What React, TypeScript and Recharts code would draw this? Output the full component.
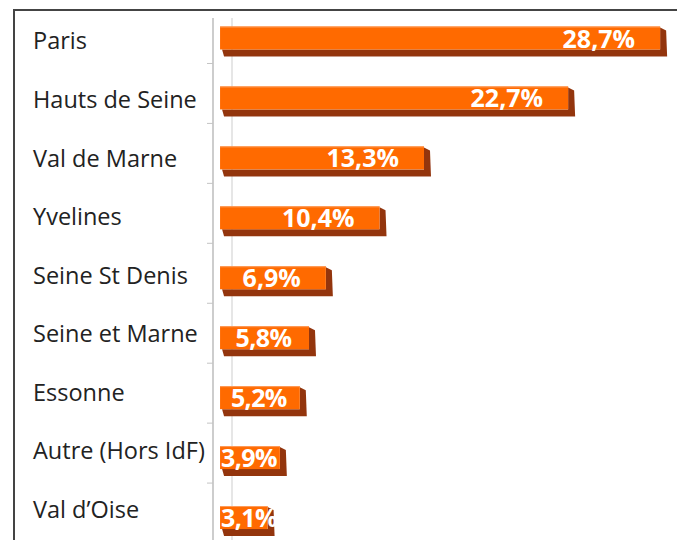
import { BarChart, Bar, XAxis, YAxis, LabelList } from 'recharts'

const departements = [
  'Paris',
  'Hauts de Seine',
  'Val de Marne',
  'Yvelines',
  'Seine St Denis',
  'Seine et Marne',
  'Essonne',
  'Autre (Hors IdF)',
  'Val d\u2019Oise',
]

const parts = [28.7, 22.7, 13.3, 10.4, 6.9, 5.8, 5.2, 3.9, 3.1]

const data = departements.map((name, i) => ({ name, value: parts[i] }))

const ORANGE = '#ff6a00'
const SHADOW = '#933611'

function formatPct(v: number) {
  return `${v.toFixed(1).replace('.', ',')}%`
}

// barre avec un petit effet 3D (face droite + dessous)
function Bar3D(props: any) {
  const { x, y, width, height } = props
  if (width <= 0) return null
  const pts = [
    [x + 2, y + height],
    [x + width, y + height],
    [x + width, y + 1],
    [x + width + 6, y + 4],
    [x + width + 7, y + height + 7],
    [x + 4, y + height + 7],
  ]
    .map(p => p.join(','))
    .join(' ')
  return (
    <g>
      <polygon points={pts} fill={SHADOW} filter="url(#soft)" />
      <rect x={x} y={y} width={width} height={height} fill={ORANGE} />
      <line x1={x} x2={x + width} y1={y + 0.5} y2={y + 0.5} stroke="#ff9d5c" strokeWidth={1} />
    </g>
  )
}

function ValueLabel(props: any) {
  const { x, y, width, height, value } = props
  // petites barres : libellé à peu près centré (sans sortir à gauche), sinon calé à droite
  const small = width < 100
  return (
    <text
      x={small ? Math.max(x + 1, x + width / 2 - 29) : x + width - 25}
      y={y + height - 2}
      textAnchor={small ? 'start' : 'end'}
      fill="#fff"
      fontFamily="'Open Sans', sans-serif"
      fontWeight={700}
      fontSize={25}
      letterSpacing={small ? -0.6 : 0}
    >
      {formatPct(value)}
    </text>
  )
}

function CategoryTick(props: any) {
  const { y, payload, index } = props
  // les libellés sont un peu plus serrés que les barres dans l'original
  const dy = 11 - (index ?? 0) * 1.375
  return (
    <g>
      <text
        x={33}
        y={y + dy}
        textAnchor="start"
        fill="#222"
        fontFamily="'Open Sans', sans-serif"
        fontSize={23.5}
      >
        {payload.value}
      </text>
      <line x1={207} x2={213} y1={y + 25} y2={y + 25} stroke="#c4c4c4" strokeWidth={1} />
    </g>
  )
}

export default function App() {
  return (
    <div style={{ position: 'absolute', left: 0, top: 0, width: 677, height: 540, overflow: 'hidden', background: '#fff' }}>
      <div
        style={{
          position: 'absolute',
          left: 13,
          top: 9,
          width: 700,
          height: 600,
          borderTop: '2px solid #444',
          borderLeft: '2px solid #444',
        }}
      />
      {/* les deux traits gris de l'axe, derrière les barres */}
      <div style={{ position: 'absolute', left: 212, top: 18, width: 2, height: 530, background: '#cdcdcd' }} />
      <div style={{ position: 'absolute', left: 231, top: 18, width: 2, height: 530, background: '#e6e6e6' }} />
      <div style={{ position: 'absolute', left: 0, top: 0 }}>
        <BarChart
          width={677}
          height={552}
          data={data}
          layout="vertical"
          margin={{ top: 8.5, right: 0, bottom: 4, left: 0 }}
          barSize={23}
        >
          <defs>
            <filter id="soft" x="-10%" y="-50%" width="120%" height="200%">
              <feGaussianBlur stdDeviation="0.7" />
            </filter>
          </defs>
          <XAxis type="number" hide domain={[-0.46, 29.8]} allowDataOverflow />
          <YAxis
            type="category"
            dataKey="name"
            width={213}
            axisLine={false}
            tickLine={false}
            tick={<CategoryTick />}
            interval={0}
          />
          <Bar dataKey="value" shape={<Bar3D />} isAnimationActive={false}>
            <LabelList dataKey="value" content={<ValueLabel />} />
          </Bar>
        </BarChart>
      </div>
    </div>
  )
}
